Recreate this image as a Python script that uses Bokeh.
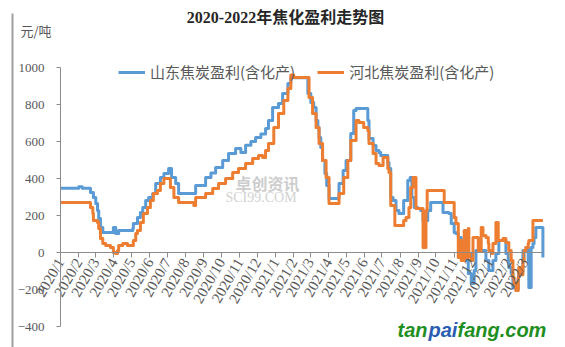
import math
import pandas as pd
from bokeh.plotting import figure
from bokeh.models import Range1d, FixedTicker, Label, Legend, LegendItem, BoxAnnotation
from bokeh.embed import file_html
from bokeh.resources import INLINE

TITLE = "2020-2022年焦化盈利走势图"
UNIT = "元/吨"
SERIES_NAMES = ["山东焦炭盈利(含化产)", "河北焦炭盈利(含化产)"]

shandong_dates = [
    "2020-01-01", "2020-02-01", "2020-02-07", "2020-02-21", "2020-02-26", "2020-03-01", "2020-03-04",
    "2020-03-06", "2020-03-09", "2020-03-13", "2020-03-31", "2020-04-04", "2020-04-09", "2020-05-03",
    "2020-05-04", "2020-05-11", "2020-05-16", "2020-05-20", "2020-05-25", "2020-05-30", "2020-06-06",
    "2020-06-11", "2020-06-19", "2020-06-25", "2020-07-03", "2020-07-08", "2020-07-15", "2020-07-20",
    "2020-08-18", "2020-09-04", "2020-09-13", "2020-09-21", "2020-10-03", "2020-10-13", "2020-10-25",
    "2020-11-03", "2020-11-11", "2020-11-20", "2020-11-28", "2020-12-07", "2020-12-15", "2020-12-20",
    "2020-12-27", "2021-01-06", "2021-01-13", "2021-01-22", "2021-01-27", "2021-02-25", "2021-03-02",
    "2021-03-07", "2021-03-11", "2021-03-14", "2021-03-16", "2021-03-19", "2021-03-22", "2021-03-26",
    "2021-03-29", "2021-04-02", "2021-04-19", "2021-04-26", "2021-05-01", "2021-05-09", "2021-05-14",
    "2021-05-18", "2021-06-07", "2021-06-09", "2021-06-16", "2021-06-21", "2021-06-26", "2021-06-29",
    "2021-07-11", "2021-07-13", "2021-07-16", "2021-07-20", "2021-07-25", "2021-07-30", "2021-08-07",
    "2021-08-14", "2021-08-18", "2021-08-21", "2021-08-25", "2021-08-31", "2021-09-05", "2021-09-09",
    "2021-09-17", "2021-09-22", "2021-10-13", "2021-10-23", "2021-10-27", "2021-11-01", "2021-11-04",
    "2021-11-08", "2021-11-13", "2021-11-16", "2021-11-21", "2021-11-25", "2021-11-30", "2021-12-05",
    "2021-12-08", "2021-12-25", "2021-12-30", "2022-01-06", "2022-01-11", "2022-01-16", "2022-01-28",
    "2022-02-01", "2022-02-02", "2022-02-06", "2022-02-09", "2022-02-14", "2022-02-18", "2022-02-19",
    "2022-02-26", "2022-03-03", "2022-03-07", "2022-03-08", "2022-03-12", "2022-03-15", "2022-03-17",
    "2022-03-20", "2022-03-29", "2022-04-01",
]
shandong_values = [
    347, 355, 347, 324, 297, 265, 227,
    184, 135, 108, 135, 103, 119, 130,
    157, 189, 216, 243, 281, 297, 319,
    373, 405, 427, 454, 405, 373, 319,
    362, 405, 430, 459, 497, 535, 562,
    540, 580, 600, 622, 640, 670, 713,
    784, 805, 860, 914, 945, 860, 811,
    784, 713, 676, 622, 568, 497, 427,
    362, 292, 373, 443, 497, 643, 768,
    778, 713, 616, 578, 551, 540, 524,
    486, 454, 297, 281, 227, 211, 281,
    389, 405, 297, 243, 238, 227, 173,
    227, 270, 216, 211, 157, 108, 103,
    81, 30, -5, -43, -113, -168, -97,
    11, -43, -97, -43, -5, 65, -5,
    -43, -81, -113, -189, -200, -135, -100,
    11, 27, -43, -189, 27, 49, 81,
    135, 135, -27,
]

hebei_dates = [
    "2020-01-01", "2020-02-21", "2020-02-25", "2020-02-26", "2020-03-04", "2020-03-06", "2020-03-09",
    "2020-03-13", "2020-03-18", "2020-03-26", "2020-03-31", "2020-04-04", "2020-04-07", "2020-04-09",
    "2020-04-16", "2020-04-24", "2020-05-04", "2020-05-08", "2020-05-11", "2020-05-16", "2020-05-21",
    "2020-05-28", "2020-06-02", "2020-06-07", "2020-06-14", "2020-06-19", "2020-06-25", "2020-07-06",
    "2020-07-12", "2020-07-20", "2020-08-15", "2020-08-18", "2020-09-04", "2020-09-16", "2020-09-26",
    "2020-10-08", "2020-10-20", "2020-10-30", "2020-11-11", "2020-11-23", "2020-12-03", "2020-12-10",
    "2020-12-15", "2020-12-20", "2020-12-29", "2021-01-06", "2021-01-15", "2021-01-22", "2021-01-27",
    "2021-02-01", "2021-02-27", "2021-03-05", "2021-03-11", "2021-03-16", "2021-03-22", "2021-03-28",
    "2021-04-02", "2021-04-19", "2021-04-27", "2021-05-04", "2021-05-09", "2021-05-18", "2021-05-23",
    "2021-05-31", "2021-06-07", "2021-06-09", "2021-06-16", "2021-06-21", "2021-06-26", "2021-07-03",
    "2021-07-11", "2021-07-13", "2021-07-16", "2021-07-23", "2021-08-07", "2021-08-11", "2021-08-16",
    "2021-08-19", "2021-08-23", "2021-08-28", "2021-09-09", "2021-09-14", "2021-09-16", "2021-10-15",
    "2021-11-01", "2021-11-04", "2021-11-08", "2021-11-09", "2021-11-13", "2021-11-18", "2021-11-21",
    "2021-11-25", "2021-11-26", "2021-11-30", "2021-12-03", "2021-12-12", "2021-12-17", "2021-12-20",
    "2021-12-25", "2021-12-29", "2021-12-30", "2022-01-03", "2022-01-06", "2022-01-11", "2022-01-15",
    "2022-01-23", "2022-01-28", "2022-02-02", "2022-02-06", "2022-02-09", "2022-02-11", "2022-02-14",
    "2022-02-18", "2022-02-19", "2022-02-23", "2022-02-26", "2022-02-28", "2022-03-03", "2022-03-07",
    "2022-03-08", "2022-03-15", "2022-04-01",
]
hebei_values = [
    270, 243, 211, 173, 162, 130, 76,
    49, 38, 27, 0, -5, 11, 38,
    49, 38, 65, 103, 119, 162, 211,
    243, 281, 319, 335, 373, 400, 351,
    297, 270, 254, 297, 319, 346, 373,
    400, 432, 454, 481, 508, 524, 514,
    551, 589, 676, 751, 822, 886, 960,
    946, 838, 751, 676, 589, 497, 405,
    265, 319, 405, 497, 605, 713, 703,
    676, 659, 589, 535, 481, 470, 514,
    454, 432, 254, 146, 173, 189, 243,
    351, 405, 238, 27, 227, 335, 270,
    189, 157, -27, 65, -43, 119, -27,
    130, -5, -43, 81, 11, 135, 92,
    81, 49, 11, -5, 49, 162, 65,
    76, 54, 11, -43, -135, -168, -205,
    -135, -81, -120, -43, 11, 27, 49,
    65, 173, 173,
]

month_labels = [
    "2020/1", "2020/2", "2020/3", "2020/4", "2020/5", "2020/6", "2020/7", "2020/8", "2020/9",
    "2020/10", "2020/11", "2020/12", "2021/1", "2021/2", "2021/3", "2021/4", "2021/5", "2021/6",
    "2021/7", "2021/8", "2021/9", "2021/10", "2021/11", "2021/12", "2022/1", "2022/2", "2022/3",
]
y_ticks = [-400, -200, 0, 200, 400, 600, 800, 1000]
x_start = "2020-01-01"
x_end = "2022-04-02"

# ---- layout (canvas pixels) ----
W, H = 565, 347
PLOT_LEFT, PLOT_RIGHT, PLOT_TOP, PLOT_BOTTOM = 60, 543, 67, 326

origin = pd.Timestamp(x_start)


def to_days(dates):
    return [(pd.Timestamp(d) - origin).days for d in dates]


sd_x = to_days(shandong_dates)
hb_x = to_days(hebei_dates)
month_x = [(pd.Timestamp(int(m.split("/")[0]), int(m.split("/")[1]), 1) - origin).days for m in month_labels]
end_days = (pd.Timestamp(x_end) - origin).days

# the frame covers the whole canvas; the axes sit at fixed places inside it
kx = (PLOT_RIGHT - PLOT_LEFT) / end_days
ky = (PLOT_BOTTOM - PLOT_TOP) / (y_ticks[-1] - y_ticks[0])
x_lo = 0 - PLOT_LEFT / kx
x_hi = end_days + (W - PLOT_RIGHT) / kx
y_hi = y_ticks[-1] + PLOT_TOP / ky
y_lo = y_ticks[0] - (H - PLOT_BOTTOM) / ky

p = figure(
    width=W, height=H, output_backend="svg", toolbar_location=None, title_location=None,
    x_range=Range1d(x_lo, x_hi), y_range=Range1d(y_lo, y_hi),
    min_border_left=0, min_border_right=0, min_border_top=0, min_border_bottom=0,
    background_fill_color="white", border_fill_color="white", outline_line_color=None,
)
p.xgrid.visible = False
p.ygrid.visible = False

axis_color = "#8c8c8c"
text_color = "#595959"
serif = '"Liberation Serif", "Noto Sans CJK SC"'

xa = p.xaxis[0]
xa.fixed_location = 0
xa.bounds = (0, end_days)
xa.ticker = FixedTicker(ticks=month_x, minor_ticks=[])
xa.major_label_overrides = {d: lab for d, lab in zip(month_x, month_labels)}
xa.major_label_orientation = math.pi / 3
xa.axis_line_color = axis_color
xa.major_tick_line_color = axis_color
xa.major_tick_out = 5
xa.major_tick_in = 0
xa.minor_tick_line_color = None
xa.major_label_standoff = 2
xa.major_label_text_font = serif
xa.major_label_text_font_size = "15px"
xa.major_label_text_color = text_color

ya = p.yaxis[0]
ya.fixed_location = 0
ya.bounds = (y_ticks[0], y_ticks[-1])
ya.ticker = FixedTicker(ticks=y_ticks, minor_ticks=[])
ya.axis_line_color = axis_color
ya.major_tick_line_color = axis_color
ya.major_tick_out = 4
ya.major_tick_in = 0
ya.minor_tick_line_color = None
ya.major_label_standoff = 12
ya.major_label_text_font = serif
ya.major_label_text_font_size = "13px"
ya.major_label_text_color = text_color


def screen_label(text, x, y, **kw):
    # x from the canvas's left edge, y from the canvas's top edge
    p.add_layout(Label(x=x, y=H - y, x_units="screen", y_units="screen", text=text,
                       text_baseline="middle", **kw))


# left frame line of the original picture
p.add_layout(BoxAnnotation(left=11, right=13, bottom=0, top=H - 13,
                           left_units="screen", right_units="screen", bottom_units="screen", top_units="screen",
                           fill_color="#a0a0a0", fill_alpha=1, line_color=None))

# watermark of the data source
screen_label("卓创资讯", 235, 182, text_font="Noto Sans CJK SC", text_font_size="16px",
             text_font_style="bold", text_color="#cdcdcd", text_align="left")
screen_label("SCI99.COM", 225, 197, text_font=serif, text_font_size="14px",
             text_color="#d2d2d2", text_align="left")

r1 = p.step(sd_x, shandong_values, mode="after", line_width=3, line_color="#5B9BD5", line_join="round")
r2 = p.step(hb_x, hebei_values, mode="after", line_width=3, line_color="#ED7D31", line_join="round")

legend = Legend(
    items=[LegendItem(label=SERIES_NAMES[0], renderers=[r1]), LegendItem(label=SERIES_NAMES[1], renderers=[r2])],
    orientation="horizontal", location=(118, H - 82),
    glyph_width=27, glyph_height=18, label_standoff=5, spacing=22, padding=0, margin=0,
    border_line_color=None, background_fill_alpha=0,
    label_text_font="Noto Sans CJK SC", label_text_font_size="15px", label_text_color=text_color,
)
p.add_layout(legend)

screen_label(TITLE, 285, 17, text_font=serif, text_font_size="16px", text_font_style="bold",
             text_color="#262626", text_align="center")
screen_label(UNIT, 20, 30, text_font="Noto Sans CJK SC", text_font_size="13px",
             text_color=text_color, text_align="left")

# site watermark
for txt, xpos, col in [("tan", 397, "#1f8f1f"), ("pai", 428, "#2a5db0"), ("fang.com", 457, "#1f8f1f")]:
    screen_label(txt, xpos, 329, text_font="Liberation Sans", text_font_size="20px",
                 text_font_style="bold italic", text_color=col, text_align="left")

open("out.html", "w").write(file_html(p, INLINE))
